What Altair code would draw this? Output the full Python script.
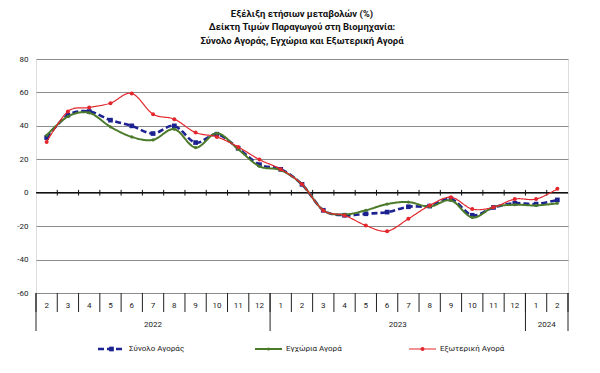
import altair as alt
import pandas as pd

# ---- data ----
months = [2, 3, 4, 5, 6, 7, 8, 9, 10, 11, 12, 1, 2, 3, 4, 5, 6, 7, 8, 9, 10, 11, 12, 1, 2]
years = ["2022", "2023", "2024"]
year_spans = [11, 12, 2]

total = [33.0, 46.4, 48.6, 43.4, 40.0, 35.4, 40.0, 30.0, 35.0, 26.6, 16.8, 14.0, 5.0,
         -10.5, -13.5, -12.6, -11.6, -8.4, -8.0, -3.8, -13.5, -8.8, -6.3, -6.8, -4.3]
domestic = [34.4, 45.6, 47.8, 39.4, 33.4, 31.6, 38.0, 27.0, 35.6, 26.0, 15.8, 13.5, 5.0,
            -10.5, -13.0, -10.5, -6.8, -5.6, -8.3, -4.6, -14.8, -8.6, -7.2, -7.6, -6.3]
export = [30.4, 48.6, 51.0, 53.6, 59.4, 47.0, 44.0, 36.0, 33.4, 27.4, 19.8, 14.0, 5.0,
          -10.6, -13.6, -19.6, -23.0, -15.6, -7.6, -2.7, -9.8, -8.7, -3.8, -3.8, 2.3]

series_names = ["Σύνολο Αγοράς", "Εγχώρια Αγορά", "Εξωτερική Αγορά"]
series_values = [total, domestic, export]
colors = ["#1c2390", "#4b7a2b", "#e3262c"]
y_ticks = [-60, -40, -20, 0, 20, 40, 60, 80]

title_lines = [
    "Εξέλιξη ετήσιων μεταβολών (%)",
    "Δείκτη Τιμών Παραγωγού στη Βιομηχανία:",
    "Σύνολο Αγοράς, Εγχώρια και Εξωτερική Αγορά",
]

FONT = "Roboto"

# ---- tables ----
n = len(months)
pos = [i + 0.5 for i in range(n)]
rows = []
for name, vals in zip(series_names, series_values):
    for p, v in zip(pos, vals):
        rows.append({"pos": p, "value": v, "series": name})
df = pd.DataFrame(rows)

month_df = pd.DataFrame({"pos": pos, "label": [str(m) for m in months]})
bounds_df = pd.DataFrame({"b": list(range(n + 1))})
inner_bounds_df = pd.DataFrame({"b": list(range(1, n))})
ycuts = [0]
for s in year_spans:
    ycuts.append(ycuts[-1] + s)
year_bounds_df = pd.DataFrame({"b": ycuts})
year_df = pd.DataFrame({
    "pos": [(ycuts[i] + ycuts[i + 1]) / 2 for i in range(len(years))],
    "label": years,
})
one = pd.DataFrame({"a": [0]})

W, H = 532, 234
xscale = alt.Scale(domain=[0, n], nice=False, zero=False)
yscale = alt.Scale(domain=[-60, 80], nice=False)
yaxis = alt.Axis(values=y_ticks, tickCount=len(y_ticks) + 2, grid=True, gridColor="#8c8c8c",
                 gridWidth=1, ticks=False, domain=False, labelPadding=8, labelFontSize=8,
                 labelOverlap=False, labelFont=FONT, labelColor="#222", title=None,
                 labelExpr="'' + datum.value")

base_x = alt.X("pos:Q", scale=xscale, axis=None)

# grid / axis frame
grid = alt.Chart(one).mark_rule(opacity=0).encode(
    y=alt.Y("a:Q", scale=yscale, axis=yaxis)
)
zero_line = alt.Chart(one).mark_rule(color="#111", strokeWidth=1.2).encode(y=alt.datum(0))
zero_ticks = alt.Chart(inner_bounds_df).mark_rule(color="#111", strokeWidth=1).encode(
    x=alt.X("b:Q", scale=xscale, axis=None), y=alt.datum(-1.7), y2=alt.datum(1.7)
)
bottom_ticks = alt.Chart(bounds_df).mark_rule(color="#222", strokeWidth=1).encode(
    x=alt.X("b:Q", scale=xscale, axis=None), y=alt.value(H), y2=alt.value(H + 19)
)
year_ticks = alt.Chart(year_bounds_df).mark_rule(color="#222", strokeWidth=1).encode(
    x=alt.X("b:Q", scale=xscale, axis=None), y=alt.value(H), y2=alt.value(H + 38)
)
month_text = alt.Chart(month_df).mark_text(fontSize=8, font=FONT, color="#222", baseline="middle").encode(
    x=base_x, y=alt.value(H + 12.5), text="label:N"
)
year_text = alt.Chart(year_df).mark_text(fontSize=8, font=FONT, color="#222", baseline="middle").encode(
    x=base_x, y=alt.value(H + 32), text="label:N"
)

layers = [grid, zero_line, zero_ticks, bottom_ticks, year_ticks, month_text, year_text]

styles = [
    dict(width=2.6, dash=[6, 3], shape="square", size=22),
    dict(width=2.0, dash=[1, 0], shape="circle", size=10),
    dict(width=1.2, dash=[1, 0], shape="circle", size=16),
]

for name, col, st in zip(series_names, colors, styles):
    sub = df[df["series"] == name]
    line = alt.Chart(sub).mark_line(color=col, strokeWidth=st["width"], strokeDash=st["dash"],
                                    interpolate="cardinal").encode(
        x=base_x, y=alt.Y("value:Q", scale=yscale, axis=yaxis))
    pts = alt.Chart(sub).mark_point(color=col, filled=True, opacity=1, shape=st["shape"],
                                    size=st["size"]).encode(
        x=base_x, y=alt.Y("value:Q", scale=yscale, axis=yaxis))
    layers += [line, pts]

# legend (manual, positioned below axis)
leg_x = [62, 219, 373]
leg_y = 290
for name, col, st, lx in zip(series_names, colors, styles, leg_x):
    layers.append(alt.Chart(one).mark_rule(color=col, strokeWidth=st["width"], strokeDash=st["dash"]).encode(
        x=alt.value(lx), x2=alt.value(lx + 27), y=alt.value(leg_y)))
    layers.append(alt.Chart(one).mark_point(color=col, filled=True, opacity=1, shape=st["shape"],
                                            size=st["size"]).encode(
        x=alt.value(lx + 13.5), y=alt.value(leg_y)))
    layers.append(alt.Chart(one).mark_text(fontSize=8, font=FONT, color="#222", align="left",
                                           baseline="middle").encode(
        x=alt.value(lx + 31), y=alt.value(leg_y), text=alt.value(name)))

chart = alt.layer(*layers).properties(
    width=W, height=H,
    padding={"left": 28, "top": 51, "right": 20, "bottom": 68},
    autosize=alt.AutoSizeParams(type="none"),
    title=alt.TitleParams(text=title_lines, fontSize=9.5, font=FONT, fontWeight="bold",
                          anchor="middle", offset=10, lineHeight=13.5, color="#111"),
).configure_view(stroke="#444", strokeWidth=1.5).configure(background="white")

chart.save("out.html", embed_options={"renderer": "svg", "actions": False})
